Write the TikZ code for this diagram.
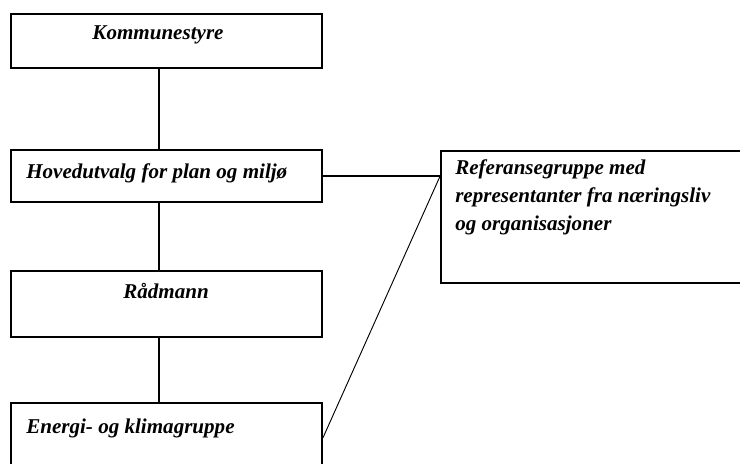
\documentclass[tikz,border=0pt]{standalone}
\usepackage{fontspec}
\setmainfont{Liberation Serif}
\begin{document}
\begin{tikzpicture}[x=0.75pt,y=-0.75pt]
\useasboundingbox (0,0) rectangle (740,464);
\clip (0,0) rectangle (740,464);
\tikzset{
  box/.style={draw, line width=1.3pt, rectangle, inner sep=0pt},
  lbl/.style={inner sep=0pt, font=\fontsize{15.8}{19.5}\selectfont\bfseries\itshape},
  conn/.style={line width=1pt},
  thinconn/.style={line width=0.7pt}
}
\fill[white] (0,0) rectangle (740,464);
\node[box, minimum width=233.25pt, minimum height=40.5pt] (k) at (166.5,41) {};
\node[box, minimum width=233.25pt, minimum height=39pt] (h) at (166.5,176) {};
\node[box, minimum width=233.25pt, minimum height=49.5pt] (r) at (166.5,304) {};
\node[box, minimum width=233.25pt, minimum height=52.5pt] (e) at (166.5,438) {};
\node[box, minimum width=240pt, minimum height=99pt] (ref) at (601,217) {};

\node[lbl] (kt) at (158,35) {Kommunestyre};
\node[lbl, anchor=base west] (ht) at (26,178) {Hovedutvalg for plan og miljø};
\node[lbl, anchor=base] (rt) at (166,298) {Rådmann};
\node[lbl, anchor=base west] (et) at (26,433) {Energi- og klimagruppe};
\node[lbl, anchor=north west, align=left] (reft) at (455,159) {Referansegruppe med\\[1.5pt]representanter fra næringsliv\\[2pt]og organisasjoner};

\coordinate (col) at (159,0);
\coordinate (j) at (h.east -| ref.west);
\draw[conn] (k.south -| col) -- (h.north -| col);
\draw[conn] (h.south -| col) -- (r.north -| col);
\draw[conn] (r.south -| col) -- (e.north -| col);
\draw[conn] (h.east) -- (j);
\draw[thinconn] (j) -- (e.east);
\end{tikzpicture}
\end{document}
